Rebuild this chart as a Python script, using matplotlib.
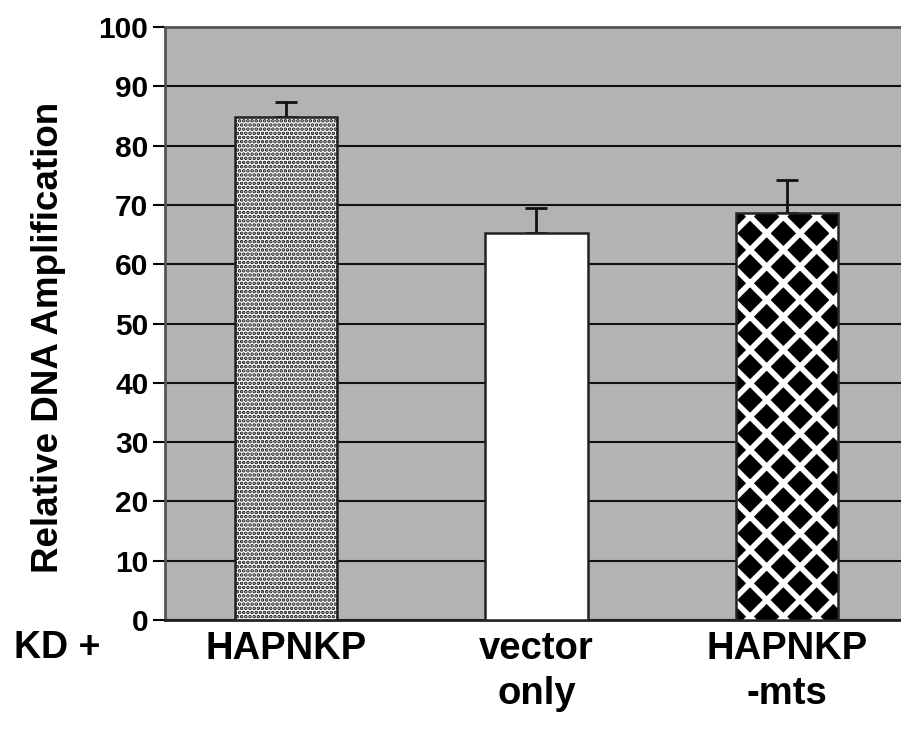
import matplotlib.pyplot as plt

plt.rcParams['font.family'] = ['Liberation Sans', 'DejaVu Sans']
plt.rcParams['font.weight'] = 'bold'

labels = ['HAPNKP', 'vector\nonly', 'HAPNKP\n-mts']
values = [84.8, 65.2, 68.6]
errors = [2.6, 4.3, 5.6]
# fill colour, hatch pattern, hatch line width
fills = ['white', 'white', 'black']
hatches = ['....', '', 'x']
hatch_lw = [1.8, 1.0, 4.0]
hatch_colors = ['#111111', '#111111', 'white']

fig = plt.figure(figsize=(9.01, 7.32), dpi=100)
ax = fig.add_axes([0.1831, 0.153, 0.8169, 0.81])
ax.set_facecolor('#b3b3b3')

for i in range(len(values)):
    plt.rcParams['hatch.linewidth'] = hatch_lw[i]
    ax.bar(i, values[i], width=0.41, color=fills[i], edgecolor=hatch_colors[i],
           linewidth=0, hatch=hatches[i], zorder=3)
    ax.bar(i, values[i], width=0.41, color='none', edgecolor='#222222',
           linewidth=1.8, zorder=4)
    ax.errorbar(i, values[i], yerr=[[0], [errors[i]]], fmt='none',
                ecolor='#111111', elinewidth=2, capsize=8, capthick=2, zorder=2)

ax.set_ylim(0, 100)
ax.set_xlim(-0.483, 2.455)
ax.set_yticks(range(0, 101, 10))
ax.yaxis.grid(True, color='#111111', linewidth=1.5, zorder=1)
ax.set_axisbelow(True)
ax.tick_params(axis='y', labelsize=21.5, length=9, width=1.5, pad=3)
ax.set_xticks(range(len(labels)))
ax.set_xticklabels(labels, fontsize=27.5, linespacing=1.3)
ax.tick_params(axis='x', length=0, pad=8)

for s in ['left', 'top']:
    ax.spines[s].set_color('#555555')
    ax.spines[s].set_linewidth(2)
ax.spines['bottom'].set_color('#222222')
ax.spines['bottom'].set_linewidth(2)
ax.spines['right'].set_visible(False)

ax.set_ylabel('Relative DNA Amplification', fontsize=26.5, fontweight='bold')
ax.yaxis.set_label_coords(-0.135, 0.476)
fig.text(0.063, 0.115, 'KD +', fontsize=27, ha='center', va='center')

fig.savefig('out.png', dpi=100)
